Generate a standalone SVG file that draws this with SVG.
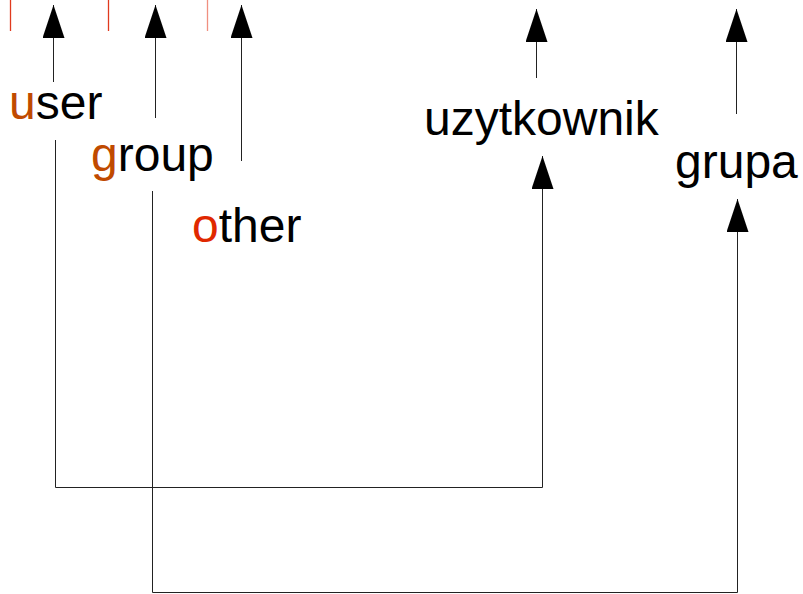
<svg xmlns="http://www.w3.org/2000/svg" width="803" height="594" viewBox="0 0 803 594">
<style>
text{font-family:"Liberation Sans",Arial,sans-serif;font-size:48px;fill:#000}
.c{fill:none;stroke:#222;stroke-width:1}
.tick{stroke:#e03a1e;stroke-width:1.3}
.hu{fill:#c04a00}
.ho{fill:#e02800}
</style>
<defs>
<marker id="ah" markerUnits="userSpaceOnUse" viewBox="0 -11 33 22" markerWidth="33" markerHeight="22" refX="33" refY="0" orient="auto">
<path d="M0,-11 L33,0 L0,11 Z" fill="#000"/>
</marker>
</defs>
<rect width="803" height="594" fill="#fff"/>
<g id="ticks">
<line class="tick" x1="10.5" y1="0" x2="10.5" y2="31"/>
<line class="tick" x1="108.5" y1="0" x2="108.5" y2="31"/>
<line class="tick" x1="207.5" y1="0" x2="207.5" y2="31" style="stroke:#f09080"/>
</g>
<g id="connectors">
<line class="c" x1="53.5" y1="82" x2="53.5" y2="5" marker-end="url(#ah)"/>
<line class="c" x1="155.5" y1="118" x2="155.5" y2="5" marker-end="url(#ah)"/>
<line class="c" x1="241.5" y1="161" x2="241.5" y2="5" marker-end="url(#ah)"/>
<line class="c" x1="536.5" y1="78" x2="536.5" y2="9" marker-end="url(#ah)"/>
<line class="c" x1="736.5" y1="114" x2="736.5" y2="9" marker-end="url(#ah)"/>
<polyline class="c" points="55.5,140 55.5,487.5 542.5,487.5 542.5,156" marker-end="url(#ah)"/>
<polyline class="c" points="152.5,191 152.5,592.5 737.5,592.5 737.5,199" marker-end="url(#ah)"/>
</g>
<g id="user"><text x="9" y="119"><tspan class="hu">u</tspan>ser</text></g>
<g id="group"><text x="91" y="171"><tspan class="hu">g</tspan>roup</text></g>
<g id="other"><text x="192" y="242"><tspan class="ho">o</tspan>ther</text></g>
<g id="uzytkownik"><text x="424" y="135">uzytkownik</text></g>
<g id="grupa"><text x="675" y="178">grupa</text></g>
</svg>
